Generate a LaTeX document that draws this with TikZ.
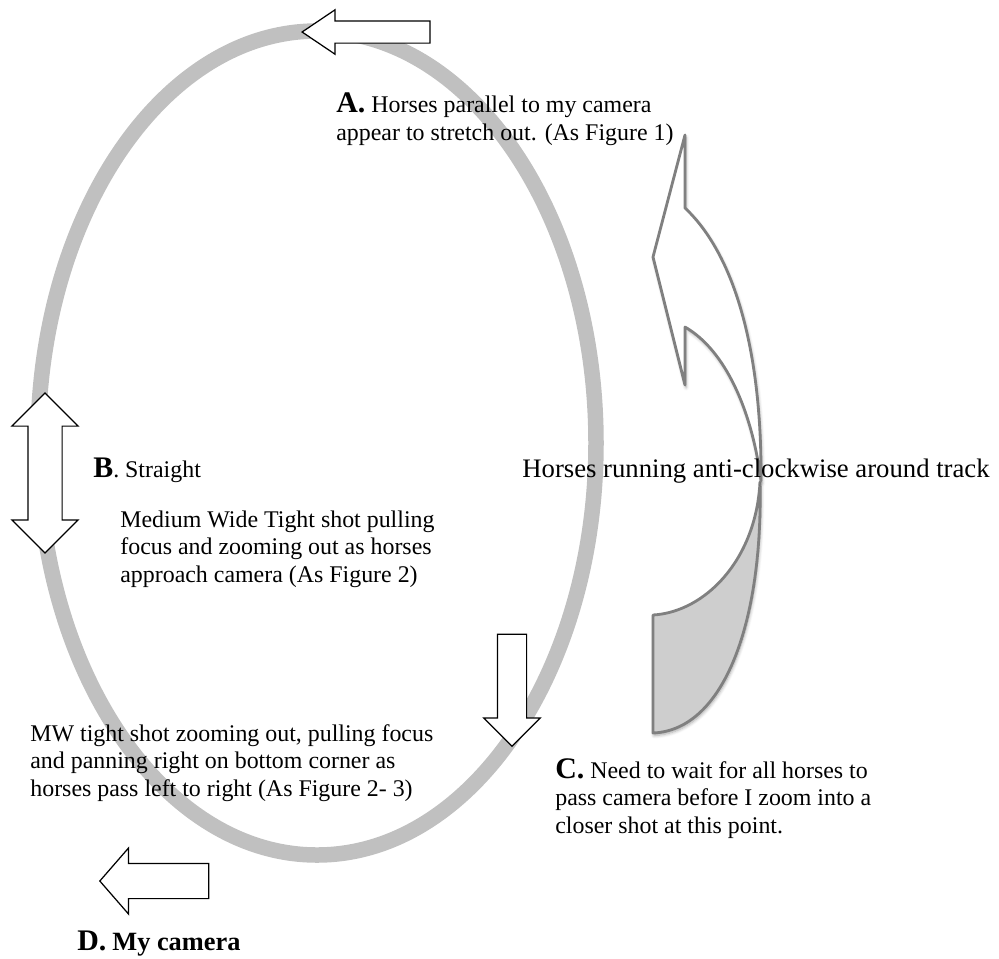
\documentclass[tikz,border=0pt]{standalone}
\usepackage{fontspec}
\setmainfont{Liberation Serif}
\usetikzlibrary{shapes.arrows,shadows.blur}
\definecolor{trackgray}{RGB}{192,192,192}
\definecolor{edgegray}{RGB}{128,128,128}
\definecolor{backgray}{RGB}{206,206,206}

\begin{document}
\begin{tikzpicture}[
  track/.style={draw=trackgray, line width=0.31cm},
  blockarrow/.style={single arrow, draw, fill=white, line width=0.7pt, anchor=tip},
  turn/.style={draw=edgegray, line width=1.6pt, line join=round, blur shadow={shadow xshift=0.6pt, shadow yshift=-1.4pt, shadow blur steps=6, shadow opacity=35}},
  note/.style={font=\fontsize{13.6}{15.5}\selectfont, align=left, inner sep=0pt, anchor=base west}
]
  \useasboundingbox (0,0) rectangle (19.98,-19.16);
  % track
  \draw[track] (6.34,-8.86) ellipse (5.58 and 8.24);
  % direction arrows
  \node[blockarrow, inner sep=0.21cm, minimum height=2.56cm, minimum width=0.86cm, single arrow head extend=0.22cm, single arrow tip angle=68, shape border rotate=180] (arrA) at (6.02,-0.64) {};
  \node[double arrow, draw, fill=white, line width=0.7pt, inner sep=0.33cm, minimum height=3.2cm, minimum width=1.3cm, double arrow head extend=0.32cm, shape border rotate=90] (arrB) at (0.9,-9.46) {};
  \node[blockarrow, inner sep=0.28cm, minimum height=2.24cm, minimum width=1.1cm, single arrow head extend=0.27cm, shape border rotate=270] (arrC) at (10.24,-14.94) {};
  \node[blockarrow, inner sep=0.34cm, minimum height=2.18cm, minimum width=1.3cm, single arrow head extend=0.31cm, single arrow tip angle=98, shape border rotate=180] (arrD) at (1.98,-17.62) {};
  % curved arrow, back then front
  \draw[turn, fill=backgray] (15.20,-9.64) .. controls (15.12,-11.20) and (14.10,-12.24) .. (13.06,-12.30)
    -- (13.06,-14.66) .. controls (14.50,-14.60) and (15.26,-12.40) .. (15.20,-9.64) -- cycle;
  \draw[turn, fill=white] (13.70,-2.70) -- (13.70,-4.16) .. controls (14.76,-5.16) and (15.24,-7.20) .. (15.22,-9.62)
    .. controls (15.04,-8.20) and (14.50,-7.00) .. (13.70,-6.54) -- (13.70,-7.70) -- (13.06,-5.14) -- cycle;
  % texts (base = last line)
  \node[note] (noteA) at (6.72,-2.80) {{\fontsize{17}{20}\selectfont\bfseries A.} Horses parallel to my camera\\appear to stretch out. (As Figure 1)};
  \node[note] (noteB) at (1.86,-9.54) {{\fontsize{17}{20}\selectfont\bfseries B}. Straight};
  \node[note] (noteMed) at (2.40,-11.64) {Medium Wide Tight shot pulling\\focus and zooming out as horses\\approach camera (As Figure 2)};
  \node[note] (noteMW) at (0.60,-15.92) {MW tight shot zooming out, pulling focus\\and panning right on bottom corner as\\horses pass left to right (As Figure 2- 3)};
  \node[note] (noteC) at (11.10,-16.66) {{\fontsize{17}{20}\selectfont\bfseries C.} Need to wait for all horses to\\pass camera before I zoom into a\\closer shot at this point.};
  \node[note] (noteD) at (1.54,-19.00) {{\fontsize{17}{20}\selectfont\bfseries D.} {\fontsize{15}{18}\selectfont\bfseries My camera}};
  \node[note, font=\fontsize{15.2}{18}\selectfont] (lap) at (10.44,-9.54) {Horses running anti-clockwise around track};
\end{tikzpicture}
\end{document}
